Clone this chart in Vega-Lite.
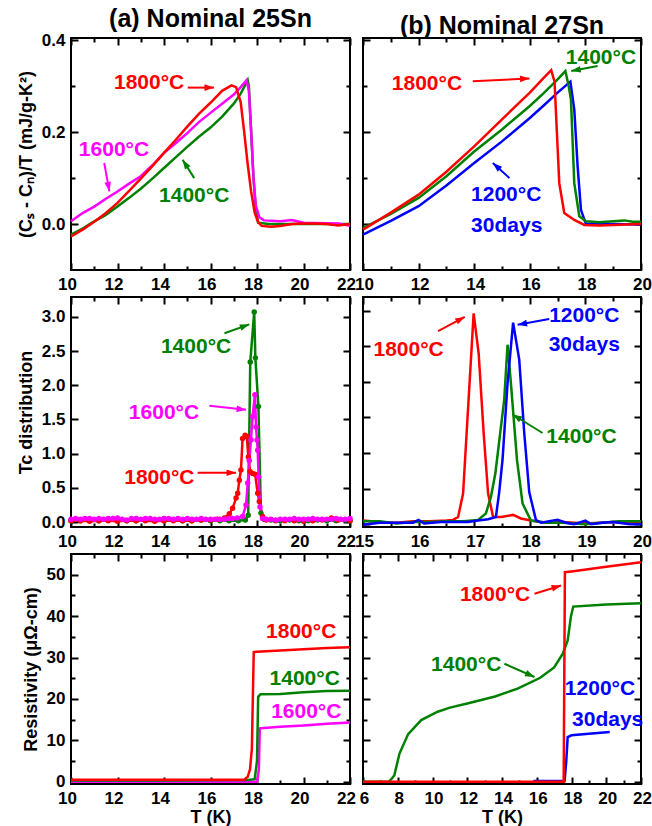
{
"$schema": "https://vega.github.io/schema/vega-lite/v6.json",
"background": "white",
"padding": {"left": 16, "top": 6, "right": 2, "bottom": 2},
"config": {
  "view": {"stroke": "#000", "strokeWidth": 2},
  "axis": {"domain": false, "grid": true, "gridColor": "#000", "gridWidth": 2, "gridOpacity": 1, "ticks": false, "labelPadding": 6, "labelFont": "Liberation Sans", "labelFontSize": 17, "labelFontWeight": "bold", "labelColor": "#000", "titleFont": "Liberation Sans", "titleFontSize": 18, "titleFontWeight": "bold", "titleColor": "#000", "labelOverlap": false, "labelBound": false, "labelFlush": false},
  "title": {"font": "Liberation Sans", "fontSize": 25, "fontWeight": "bold", "color": "#000", "offset": -1},
  "text": {"font": "Liberation Sans", "fontWeight": "bold", "fontSize": 21},
  "line": {"strokeWidth": 2.5}
},
"datasets": {
  "ca": [
    {"s":"1400","T":10.0,"v":-0.023},{"s":"1400","T":10.5,"v":-0.010},{"s":"1400","T":11.0,"v":0.006},{"s":"1400","T":11.5,"v":0.020},{"s":"1400","T":12.0,"v":0.038},{"s":"1400","T":12.5,"v":0.057},{"s":"1400","T":13.0,"v":0.077},{"s":"1400","T":13.5,"v":0.099},{"s":"1400","T":14.0,"v":0.122},{"s":"1400","T":14.5,"v":0.145},{"s":"1400","T":15.0,"v":0.168},{"s":"1400","T":15.5,"v":0.19},{"s":"1400","T":16.0,"v":0.21},{"s":"1400","T":16.5,"v":0.234},{"s":"1400","T":17.0,"v":0.262},{"s":"1400","T":17.3,"v":0.284},{"s":"1400","T":17.6,"v":0.313},{"s":"1400","T":17.65,"v":0.3},{"s":"1400","T":17.75,"v":0.2},{"s":"1400","T":17.85,"v":0.1},{"s":"1400","T":17.95,"v":0.03},{"s":"1400","T":18.05,"v":0.003},{"s":"1400","T":18.5,"v":0.0},{"s":"1400","T":19.0,"v":0.0},{"s":"1400","T":20.0,"v":0.0},{"s":"1400","T":21.0,"v":0.0},{"s":"1400","T":22.0,"v":0.0},
    {"s":"1600","T":10.0,"v":0.006},{"s":"1600","T":10.5,"v":0.024},{"s":"1600","T":11.0,"v":0.038},{"s":"1600","T":11.5,"v":0.055},{"s":"1600","T":12.0,"v":0.071},{"s":"1600","T":12.5,"v":0.088},{"s":"1600","T":13.0,"v":0.104},{"s":"1600","T":13.5,"v":0.128},{"s":"1600","T":14.0,"v":0.155},{"s":"1600","T":14.5,"v":0.176},{"s":"1600","T":15.0,"v":0.198},{"s":"1600","T":15.5,"v":0.222},{"s":"1600","T":16.0,"v":0.242},{"s":"1600","T":16.5,"v":0.262},{"s":"1600","T":17.0,"v":0.282},{"s":"1600","T":17.3,"v":0.298},{"s":"1600","T":17.55,"v":0.313},{"s":"1600","T":17.65,"v":0.29},{"s":"1600","T":17.75,"v":0.2},{"s":"1600","T":17.85,"v":0.1},{"s":"1600","T":17.95,"v":0.04},{"s":"1600","T":18.1,"v":0.015},{"s":"1600","T":18.3,"v":0.008},{"s":"1600","T":19.0,"v":0.006},{"s":"1600","T":19.5,"v":0.009},{"s":"1600","T":20.0,"v":0.003},{"s":"1600","T":21.0,"v":0.002},{"s":"1600","T":21.5,"v":0.001},{"s":"1600","T":22.0,"v":-0.004},
    {"s":"1800","T":10.0,"v":-0.027},{"s":"1800","T":10.5,"v":-0.012},{"s":"1800","T":11.0,"v":0.005},{"s":"1800","T":11.5,"v":0.024},{"s":"1800","T":12.0,"v":0.046},{"s":"1800","T":12.5,"v":0.072},{"s":"1800","T":13.0,"v":0.099},{"s":"1800","T":13.5,"v":0.126},{"s":"1800","T":14.0,"v":0.155},{"s":"1800","T":14.5,"v":0.183},{"s":"1800","T":15.0,"v":0.212},{"s":"1800","T":15.5,"v":0.24},{"s":"1800","T":16.0,"v":0.264},{"s":"1800","T":16.5,"v":0.29},{"s":"1800","T":16.9,"v":0.302},{"s":"1800","T":17.1,"v":0.298},{"s":"1800","T":17.3,"v":0.265},{"s":"1800","T":17.45,"v":0.2},{"s":"1800","T":17.6,"v":0.13},{"s":"1800","T":17.75,"v":0.07},{"s":"1800","T":17.9,"v":0.025},{"s":"1800","T":18.05,"v":0.004},{"s":"1800","T":18.2,"v":-0.004},{"s":"1800","T":18.6,"v":-0.006},{"s":"1800","T":19.0,"v":-0.004},{"s":"1800","T":19.5,"v":0.0},{"s":"1800","T":20.0,"v":0.001},{"s":"1800","T":20.5,"v":0.001},{"s":"1800","T":21.0,"v":0.0},{"s":"1800","T":21.5,"v":-0.003},{"s":"1800","T":22.0,"v":0.0}
  ],
  "cb": [
    {"s":"1200","T":10.0,"v":-0.023},{"s":"1200","T":11.0,"v":0.007},{"s":"1200","T":12.0,"v":0.039},{"s":"1200","T":13.0,"v":0.084},{"s":"1200","T":14.0,"v":0.133},{"s":"1200","T":15.0,"v":0.18},{"s":"1200","T":16.0,"v":0.231},{"s":"1200","T":16.5,"v":0.258},{"s":"1200","T":17.0,"v":0.286},{"s":"1200","T":17.46,"v":0.31},{"s":"1200","T":17.6,"v":0.249},{"s":"1200","T":17.72,"v":0.126},{"s":"1200","T":17.84,"v":0.031},{"s":"1200","T":18.02,"v":0.0},{"s":"1200","T":19.0,"v":0.0},{"s":"1200","T":20.0,"v":-0.001},
    {"s":"1400","T":10.0,"v":-0.009},{"s":"1400","T":11.0,"v":0.022},{"s":"1400","T":12.0,"v":0.057},{"s":"1400","T":13.0,"v":0.104},{"s":"1400","T":14.0,"v":0.158},{"s":"1400","T":15.0,"v":0.206},{"s":"1400","T":16.0,"v":0.257},{"s":"1400","T":16.5,"v":0.285},{"s":"1400","T":17.0,"v":0.315},{"s":"1400","T":17.28,"v":0.333},{"s":"1400","T":17.4,"v":0.3},{"s":"1400","T":17.48,"v":0.271},{"s":"1400","T":17.6,"v":0.089},{"s":"1400","T":17.78,"v":0.017},{"s":"1400","T":18.02,"v":0.006},{"s":"1400","T":18.5,"v":0.004},{"s":"1400","T":19.0,"v":0.006},{"s":"1400","T":19.4,"v":0.008},{"s":"1400","T":19.7,"v":0.005},{"s":"1400","T":20.0,"v":0.005},
    {"s":"1800","T":10.0,"v":-0.012},{"s":"1800","T":11.0,"v":0.025},{"s":"1800","T":12.0,"v":0.064},{"s":"1800","T":13.0,"v":0.114},{"s":"1800","T":14.0,"v":0.169},{"s":"1800","T":15.0,"v":0.228},{"s":"1800","T":16.0,"v":0.286},{"s":"1800","T":16.5,"v":0.318},{"s":"1800","T":16.77,"v":0.335},{"s":"1800","T":16.89,"v":0.31},{"s":"1800","T":17.06,"v":0.089},{"s":"1800","T":17.24,"v":0.024},{"s":"1800","T":17.6,"v":0.009},{"s":"1800","T":17.96,"v":-0.002},{"s":"1800","T":18.5,"v":-0.003},{"s":"1800","T":19.0,"v":-0.002},{"s":"1800","T":20.0,"v":0.0}
  ],
  "da": [
    {"s":"1400","T":10.0,"v":0.02},{"s":"1400","T":10.4,"v":0.02},{"s":"1400","T":10.8,"v":0.03},{"s":"1400","T":11.2,"v":0.02},{"s":"1400","T":11.6,"v":0.03},{"s":"1400","T":12.0,"v":0.03},{"s":"1400","T":12.4,"v":0.02},{"s":"1400","T":12.8,"v":0.02},{"s":"1400","T":13.2,"v":0.03},{"s":"1400","T":13.6,"v":0.02},{"s":"1400","T":14.0,"v":0.02},{"s":"1400","T":14.4,"v":0.03},{"s":"1400","T":14.8,"v":0.02},{"s":"1400","T":15.2,"v":0.02},{"s":"1400","T":15.6,"v":0.03},{"s":"1400","T":16.0,"v":0.02},{"s":"1400","T":16.4,"v":0.02},{"s":"1400","T":16.8,"v":0.02},{"s":"1400","T":17.2,"v":0.02},{"s":"1400","T":17.5,"v":0.03},{"s":"1400","T":17.62,"v":0.1},{"s":"1400","T":17.71,"v":2.34},{"s":"1400","T":17.88,"v":3.07},{"s":"1400","T":17.93,"v":2.4},{"s":"1400","T":18.06,"v":1.69},{"s":"1400","T":18.17,"v":0.13},{"s":"1400","T":18.3,"v":0.04},{"s":"1400","T":18.6,"v":0.03},{"s":"1400","T":19.0,"v":0.02},{"s":"1400","T":19.4,"v":0.03},{"s":"1400","T":19.8,"v":0.02},{"s":"1400","T":20.2,"v":0.02},{"s":"1400","T":20.6,"v":0.03},{"s":"1400","T":21.0,"v":0.02},{"s":"1400","T":21.4,"v":0.02},{"s":"1400","T":21.8,"v":0.03},{"s":"1400","T":22.0,"v":0.02},
    {"s":"1800","T":10.0,"v":0.02},{"s":"1800","T":10.4,"v":0.02},{"s":"1800","T":10.8,"v":0.01},{"s":"1800","T":11.2,"v":0.02},{"s":"1800","T":11.6,"v":0.02},{"s":"1800","T":12.0,"v":0.01},{"s":"1800","T":12.4,"v":0.02},{"s":"1800","T":12.8,"v":0.02},{"s":"1800","T":13.2,"v":0.02},{"s":"1800","T":13.6,"v":0.01},{"s":"1800","T":14.0,"v":0.02},{"s":"1800","T":14.4,"v":0.02},{"s":"1800","T":14.8,"v":0.02},{"s":"1800","T":15.2,"v":0.02},{"s":"1800","T":15.6,"v":0.03},{"s":"1800","T":16.0,"v":0.03},{"s":"1800","T":16.3,"v":0.04},{"s":"1800","T":16.6,"v":0.06},{"s":"1800","T":16.81,"v":0.12},{"s":"1800","T":16.95,"v":0.2},{"s":"1800","T":17.1,"v":0.35},{"s":"1800","T":17.17,"v":0.42},{"s":"1800","T":17.24,"v":0.61},{"s":"1800","T":17.31,"v":0.76},{"s":"1800","T":17.38,"v":1.22},{"s":"1800","T":17.49,"v":1.27},{"s":"1800","T":17.56,"v":1.25},{"s":"1800","T":17.63,"v":0.95},{"s":"1800","T":17.7,"v":0.74},{"s":"1800","T":17.81,"v":0.71},{"s":"1800","T":17.92,"v":0.7},{"s":"1800","T":18.03,"v":0.42},{"s":"1800","T":18.1,"v":0.3},{"s":"1800","T":18.24,"v":0.08},{"s":"1800","T":18.4,"v":0.03},{"s":"1800","T":18.8,"v":0.02},{"s":"1800","T":19.2,"v":0.02},{"s":"1800","T":19.6,"v":0.02},{"s":"1800","T":20.0,"v":0.01},{"s":"1800","T":20.4,"v":0.02},{"s":"1800","T":20.8,"v":0.03},{"s":"1800","T":21.2,"v":0.06},{"s":"1800","T":21.5,"v":0.03},{"s":"1800","T":22.0,"v":0.02},
    {"s":"1600","T":10.0,"v":0.04},{"s":"1600","T":10.2,"v":0.05},{"s":"1600","T":10.4,"v":0.04},{"s":"1600","T":10.6,"v":0.05},{"s":"1600","T":10.8,"v":0.05},{"s":"1600","T":11.0,"v":0.04},{"s":"1600","T":11.2,"v":0.05},{"s":"1600","T":11.4,"v":0.04},{"s":"1600","T":11.6,"v":0.05},{"s":"1600","T":11.8,"v":0.05},{"s":"1600","T":12.0,"v":0.06},{"s":"1600","T":12.2,"v":0.04},{"s":"1600","T":12.4,"v":0.03},{"s":"1600","T":12.6,"v":0.05},{"s":"1600","T":12.8,"v":0.05},{"s":"1600","T":13.0,"v":0.04},{"s":"1600","T":13.2,"v":0.05},{"s":"1600","T":13.4,"v":0.05},{"s":"1600","T":13.6,"v":0.04},{"s":"1600","T":13.8,"v":0.04},{"s":"1600","T":14.0,"v":0.05},{"s":"1600","T":14.2,"v":0.05},{"s":"1600","T":14.4,"v":0.04},{"s":"1600","T":14.6,"v":0.05},{"s":"1600","T":14.8,"v":0.04},{"s":"1600","T":15.0,"v":0.05},{"s":"1600","T":15.2,"v":0.04},{"s":"1600","T":15.4,"v":0.04},{"s":"1600","T":15.6,"v":0.05},{"s":"1600","T":15.8,"v":0.04},{"s":"1600","T":16.0,"v":0.04},{"s":"1600","T":16.2,"v":0.04},{"s":"1600","T":16.4,"v":0.04},{"s":"1600","T":16.6,"v":0.04},{"s":"1600","T":16.8,"v":0.05},{"s":"1600","T":16.95,"v":0.05},{"s":"1600","T":17.15,"v":0.06},{"s":"1600","T":17.38,"v":0.08},{"s":"1600","T":17.53,"v":0.25},{"s":"1600","T":17.6,"v":0.57},{"s":"1600","T":17.67,"v":0.9},{"s":"1600","T":17.74,"v":1.2},{"s":"1600","T":17.81,"v":1.54},{"s":"1600","T":17.91,"v":1.86},{"s":"1600","T":17.96,"v":1.39},{"s":"1600","T":18.0,"v":1.2},{"s":"1600","T":18.03,"v":1.05},{"s":"1600","T":18.07,"v":0.66},{"s":"1600","T":18.13,"v":0.22},{"s":"1600","T":18.24,"v":0.05},{"s":"1600","T":18.4,"v":0.04},{"s":"1600","T":18.6,"v":0.04},{"s":"1600","T":18.8,"v":0.03},{"s":"1600","T":19.0,"v":0.04},{"s":"1600","T":19.2,"v":0.04},{"s":"1600","T":19.4,"v":0.04},{"s":"1600","T":19.6,"v":0.05},{"s":"1600","T":19.8,"v":0.04},{"s":"1600","T":20.0,"v":0.04},{"s":"1600","T":20.2,"v":0.04},{"s":"1600","T":20.4,"v":0.05},{"s":"1600","T":20.6,"v":0.04},{"s":"1600","T":20.8,"v":0.04},{"s":"1600","T":21.0,"v":0.04},{"s":"1600","T":21.2,"v":0.04},{"s":"1600","T":21.4,"v":0.05},{"s":"1600","T":21.6,"v":0.04},{"s":"1600","T":21.8,"v":0.04},{"s":"1600","T":22.0,"v":0.05}
  ],
  "db": [
    {"s":"1800","T":15.0,"v":0.05},{"s":"1800","T":15.3,"v":0.03},{"s":"1800","T":15.6,"v":0.02},{"s":"1800","T":15.9,"v":0.04},{"s":"1800","T":16.2,"v":0.04},{"s":"1800","T":16.5,"v":0.05},{"s":"1800","T":16.62,"v":0.06},{"s":"1800","T":16.71,"v":0.1},{"s":"1800","T":16.8,"v":0.43},{"s":"1800","T":16.99,"v":2.96},{"s":"1800","T":17.08,"v":2.4},{"s":"1800","T":17.17,"v":1.28},{"s":"1800","T":17.25,"v":0.43},{"s":"1800","T":17.34,"v":0.1},{"s":"1800","T":17.48,"v":0.1},{"s":"1800","T":17.7,"v":0.13},{"s":"1800","T":17.84,"v":0.08},{"s":"1800","T":18.02,"v":0.05},{"s":"1800","T":18.3,"v":0.02},{"s":"1800","T":18.6,"v":0.03},{"s":"1800","T":19.0,"v":0.01},{"s":"1800","T":19.5,"v":0.03},{"s":"1800","T":20.0,"v":0.02},
    {"s":"1400","T":15.0,"v":0.04},{"s":"1400","T":15.3,"v":0.04},{"s":"1400","T":15.6,"v":0.01},{"s":"1400","T":15.9,"v":0.03},{"s":"1400","T":16.2,"v":0.03},{"s":"1400","T":16.5,"v":0.04},{"s":"1400","T":16.8,"v":0.04},{"s":"1400","T":17.07,"v":0.06},{"s":"1400","T":17.21,"v":0.15},{"s":"1400","T":17.3,"v":0.38},{"s":"1400","T":17.38,"v":0.71},{"s":"1400","T":17.54,"v":1.75},{"s":"1400","T":17.6,"v":2.52},{"s":"1400","T":17.66,"v":1.98},{"s":"1400","T":17.77,"v":0.9},{"s":"1400","T":17.87,"v":0.29},{"s":"1400","T":18.02,"v":0.05},{"s":"1400","T":18.3,"v":0.02},{"s":"1400","T":18.6,"v":0.02},{"s":"1400","T":19.0,"v":0.0},{"s":"1400","T":19.3,"v":0.02},{"s":"1400","T":19.6,"v":0.04},{"s":"1400","T":20.0,"v":0.04},
    {"s":"1200","T":15.0,"v":-0.01},{"s":"1200","T":15.3,"v":0.02},{"s":"1200","T":15.6,"v":0.02},{"s":"1200","T":15.9,"v":0.02},{"s":"1200","T":16.0,"v":0.06},{"s":"1200","T":16.1,"v":0.01},{"s":"1200","T":16.4,"v":0.03},{"s":"1200","T":16.7,"v":0.03},{"s":"1200","T":16.89,"v":0.03},{"s":"1200","T":17.07,"v":0.05},{"s":"1200","T":17.25,"v":0.07},{"s":"1200","T":17.39,"v":0.1},{"s":"1200","T":17.45,"v":0.45},{"s":"1200","T":17.51,"v":0.91},{"s":"1200","T":17.6,"v":1.98},{"s":"1200","T":17.7,"v":2.83},{"s":"1200","T":17.81,"v":2.31},{"s":"1200","T":17.9,"v":1.28},{"s":"1200","T":17.99,"v":0.45},{"s":"1200","T":18.11,"v":0.06},{"s":"1200","T":18.2,"v":0.02},{"s":"1200","T":18.35,"v":0.04},{"s":"1200","T":18.5,"v":0.06},{"s":"1200","T":18.65,"v":0.02},{"s":"1200","T":18.8,"v":0.0},{"s":"1200","T":19.0,"v":0.05},{"s":"1200","T":19.1,"v":0.0},{"s":"1200","T":19.3,"v":0.02},{"s":"1200","T":19.5,"v":0.03},{"s":"1200","T":19.8,"v":0.0},{"s":"1200","T":20.0,"v":0.0}
  ],
  "ra": [
    {"s":"1600","T":10.0,"v":0.0},{"s":"1600","T":14.0,"v":0.0},{"s":"1600","T":18.0,"v":0.0},{"s":"1600","T":18.08,"v":3.0},{"s":"1600","T":18.12,"v":12.9},{"s":"1600","T":18.3,"v":13.0},{"s":"1600","T":19.0,"v":13.3},{"s":"1600","T":20.0,"v":13.6},{"s":"1600","T":21.0,"v":14.0},{"s":"1600","T":22.0,"v":14.3},
    {"s":"1400","T":10.0,"v":0.3},{"s":"1400","T":14.0,"v":0.3},{"s":"1400","T":17.6,"v":0.4},{"s":"1400","T":17.9,"v":0.6},{"s":"1400","T":18.0,"v":5.0},{"s":"1400","T":18.05,"v":20.5},{"s":"1400","T":18.15,"v":21.1},{"s":"1400","T":19.0,"v":21.2},{"s":"1400","T":20.0,"v":21.6},{"s":"1400","T":21.0,"v":21.9},{"s":"1400","T":22.0,"v":22.0},
    {"s":"1800","T":10.0,"v":0.5},{"s":"1800","T":12.0,"v":0.5},{"s":"1800","T":14.0,"v":0.5},{"s":"1800","T":16.0,"v":0.5},{"s":"1800","T":17.45,"v":0.5},{"s":"1800","T":17.6,"v":1.2},{"s":"1800","T":17.7,"v":3.0},{"s":"1800","T":17.78,"v":8.0},{"s":"1800","T":17.82,"v":20.0},{"s":"1800","T":17.86,"v":31.3},{"s":"1800","T":18.0,"v":31.4},{"s":"1800","T":19.0,"v":31.7},{"s":"1800","T":20.0,"v":32.0},{"s":"1800","T":21.0,"v":32.3},{"s":"1800","T":22.0,"v":32.5}
  ],
  "rb": [
    {"s":"1200","T":15.8,"v":0.2},{"s":"1200","T":17.6,"v":0.2},{"s":"1200","T":17.7,"v":5.0},{"s":"1200","T":17.78,"v":10.8},{"s":"1200","T":18.0,"v":11.2},{"s":"1200","T":19.0,"v":11.6},{"s":"1200","T":20.2,"v":12.0},
    {"s":"1400","T":6.0,"v":0.0},{"s":"1400","T":7.5,"v":0.0},{"s":"1400","T":7.8,"v":1.5},{"s":"1400","T":8.1,"v":6.8},{"s":"1400","T":8.6,"v":11.5},{"s":"1400","T":9.35,"v":14.9},{"s":"1400","T":10.3,"v":16.9},{"s":"1400","T":11.0,"v":17.9},{"s":"1400","T":12.0,"v":18.9},{"s":"1400","T":13.6,"v":20.6},{"s":"1400","T":14.9,"v":22.5},{"s":"1400","T":16.2,"v":25.1},{"s":"1400","T":17.0,"v":27.6},{"s":"1400","T":17.5,"v":30.9},{"s":"1400","T":17.78,"v":34.1},{"s":"1400","T":17.97,"v":40.0},{"s":"1400","T":18.1,"v":42.3},{"s":"1400","T":20.0,"v":42.8},{"s":"1400","T":22.0,"v":43.1},
    {"s":"1800","T":6.0,"v":0.0},{"s":"1800","T":10.0,"v":0.0},{"s":"1800","T":14.0,"v":0.0},{"s":"1800","T":17.55,"v":0.0},{"s":"1800","T":17.62,"v":50.6},{"s":"1800","T":18.0,"v":50.8},{"s":"1800","T":20.0,"v":51.9},{"s":"1800","T":22.0,"v":53.0}
  ],
  "ann": [
    {"p":"ca","s":"1800","T":13.36,"v":0.307,"t":"1800°C"},{"p":"ca","s":"1600","T":11.85,"v":0.162,"t":"1600°C"},{"p":"ca","s":"1400","T":15.3,"v":0.06,"t":"1400°C"},
    {"p":"cb","s":"1800","T":12.3,"v":0.304,"t":"1800°C"},{"p":"cb","s":"1400","T":18.56,"v":0.362,"t":"1400°C"},{"p":"cb","s":"1200","T":15.15,"v":0.064,"t":"1200°C"},{"p":"cb","s":"1200","T":15.17,"v":-0.005,"t":"30days"},
    {"p":"da","s":"1400","T":15.38,"v":2.56,"t":"1400°C"},{"p":"da","s":"1600","T":14.0,"v":1.59,"t":"1600°C"},{"p":"da","s":"1800","T":13.8,"v":0.64,"t":"1800°C"},
    {"p":"db","s":"1800","T":15.82,"v":2.45,"t":"1800°C"},{"p":"db","s":"1200","T":18.98,"v":2.93,"t":"1200°C"},{"p":"db","s":"1200","T":18.98,"v":2.52,"t":"30days"},{"p":"db","s":"1400","T":18.93,"v":1.23,"t":"1400°C"},
    {"p":"ra","s":"1800","T":19.9,"v":36.2,"t":"1800°C"},{"p":"ra","s":"1400","T":20.05,"v":24.9,"t":"1400°C"},{"p":"ra","s":"1600","T":20.12,"v":16.9,"t":"1600°C"},
    {"p":"rb","s":"1800","T":13.6,"v":45.0,"t":"1800°C"},{"p":"rb","s":"1400","T":11.94,"v":28.1,"t":"1400°C"},{"p":"rb","s":"1200","T":19.64,"v":22.5,"t":"1200°C"},{"p":"rb","s":"1200","T":20.08,"v":14.9,"t":"30days"}
  ],
  "arr": [
    {"p":"ca","s":"1800","T":15.02,"v":0.297,"T2":16.15,"v2":0.297,"a":0},{"p":"ca","s":"1600","T":11.43,"v":0.133,"T2":11.65,"v2":0.071,"a":80},{"p":"ca","s":"1400","T":15.3,"v":0.1,"T2":14.8,"v2":0.14,"a":237},
    {"p":"cb","s":"1800","T":13.95,"v":0.311,"T2":15.99,"v2":0.317,"a":-3},{"p":"cb","s":"1400","T":18.44,"v":0.344,"T2":17.49,"v2":0.333,"a":169},{"p":"cb","s":"1200","T":15.27,"v":0.1,"T2":14.67,"v2":0.133,"a":222},
    {"p":"da","s":"1400","T":16.6,"v":2.76,"T2":17.67,"v2":2.89,"a":-20},{"p":"da","s":"1600","T":15.95,"v":1.7,"T2":17.53,"v2":1.64,"a":6},{"p":"da","s":"1800","T":15.45,"v":0.72,"T2":17.1,"v2":0.72,"a":0},
    {"p":"db","s":"1800","T":16.35,"v":2.71,"T2":16.83,"v2":2.91,"a":-28},{"p":"db","s":"1200","T":18.35,"v":2.88,"T2":17.78,"v2":2.8,"a":170},{"p":"db","s":"1400","T":18.23,"v":1.28,"T2":17.69,"v2":1.54,"a":211},
    {"p":"rb","s":"1800","T":15.87,"v":45.4,"T2":17.4,"v2":47.4,"a":-17},{"p":"rb","s":"1400","T":14.14,"v":28.5,"T2":15.87,"v2":25.3,"a":24}
  ]
},
"columns": 2,
"spacing": {"row": 27, "column": 13},
"bounds": "flush",
"concat": [
  {"width": 279, "height": 232, "title": "(a) Nominal 25Sn",
   "layer": [
    {"data": {"name": "ca"}, "mark": {"type": "line", "strokeWidth": 2.5},
     "encoding": {
      "x": {"field": "T", "type": "quantitative", "scale": {"domain": [10, 22]}, "axis": {"orient": "bottom", "values": [10,11,12,13,14,15,16,17,18,19,20,21,22], "labelExpr": "datum.value % 2 === 0 ? datum.label : ''", "gridDash": {"condition": {"test": "datum.value % 2 === 0", "value": [7, 218, 7, 100]}, "value": [4, 224, 4, 100]}, "labelOffset": -4, "title": null}},
      "y": {"field": "v", "type": "quantitative", "scale": {"domain": [-0.1, 0.405]}, "axis": {"orient": "left", "values": [0,0.1,0.2,0.3,0.4], "labelExpr": "round(datum.value*10) % 2 === 0 ? format(datum.value, '.1f') : ''", "gridDash": {"condition": {"test": "round(datum.value*10) % 2 === 0", "value": [7, 265, 7, 100]}, "value": [4, 271, 4, 100]}, "title": "(Cₛ - Cₙ)/T (mJ/g-K²)", "titlePadding": 6}},
      "color": {"field": "s", "type": "nominal", "scale": {"domain": ["1200","1400","1600","1800"], "range": ["#0000ff","#008000","#ff00ff","#ff0000"]}, "legend": null}}},
    {"data": {"name": "arr"}, "transform": [{"filter": "datum.p === 'ca'"}], "mark": {"type": "rule", "strokeWidth": 2},
     "encoding": {"x": {"field": "T", "type": "quantitative", "scale": {"domain": [10, 22]}, "axis": null}, "y": {"field": "v", "type": "quantitative", "scale": {"domain": [-0.1, 0.405]}, "axis": null}, "x2": {"field": "T2"}, "y2": {"field": "v2"}, "color": {"field": "s", "type": "nominal", "scale": {"domain": ["1200","1400","1600","1800"], "range": ["#0000ff","#008000","#ff00ff","#ff0000"]}, "legend": null}}},
    {"data": {"name": "arr"}, "transform": [{"filter": "datum.p === 'ca'"}], "mark": {"type": "point", "filled": true, "opacity": 1, "shape": "M-2,-0.7L0,0L-2,0.7Z", "size": 90},
     "encoding": {"x": {"field": "T2", "type": "quantitative", "scale": {"domain": [10, 22]}, "axis": null}, "y": {"field": "v2", "type": "quantitative", "scale": {"domain": [-0.1, 0.405]}, "axis": null}, "angle": {"field": "a", "type": "quantitative", "scale": null}, "color": {"field": "s", "type": "nominal", "scale": {"domain": ["1200","1400","1600","1800"], "range": ["#0000ff","#008000","#ff00ff","#ff0000"]}, "legend": null}}},
    {"data": {"name": "ann"}, "transform": [{"filter": "datum.p === 'ca'"}], "mark": {"type": "text", "font": "Liberation Sans", "fontWeight": "bold", "fontSize": 21},
     "encoding": {"x": {"field": "T", "type": "quantitative", "scale": {"domain": [10, 22]}, "axis": null}, "y": {"field": "v", "type": "quantitative", "scale": {"domain": [-0.1, 0.405]}, "axis": null}, "text": {"field": "t"}, "color": {"field": "s", "type": "nominal", "scale": {"domain": ["1200","1400","1600","1800"], "range": ["#0000ff","#008000","#ff00ff","#ff0000"]}, "legend": null}}}
   ],
   "resolve": {"axis": {"x": "independent", "y": "independent"}}},
  {"width": 278, "height": 232, "title": "(b) Nominal 27Sn",
   "layer": [
    {"data": {"name": "cb"}, "mark": {"type": "line", "strokeWidth": 2.5},
     "encoding": {
      "x": {"field": "T", "type": "quantitative", "scale": {"domain": [10, 20]}, "axis": {"orient": "bottom", "values": [10,11,12,13,14,15,16,17,18,19,20], "labelExpr": "datum.value % 2 === 0 ? datum.label : ''", "gridDash": {"condition": {"test": "datum.value % 2 === 0", "value": [7, 218, 7, 100]}, "value": [4, 224, 4, 100]}, "labelOffset": 1, "title": null}},
      "y": {"field": "v", "type": "quantitative", "scale": {"domain": [-0.1, 0.405]}, "axis": {"orient": "left", "values": [0,0.1,0.2,0.3,0.4], "labels": false, "gridDash": {"condition": {"test": "round(datum.value*10) % 2 === 0", "value": [7, 264, 7, 100]}, "value": [4, 270, 4, 100]}, "title": null}},
      "color": {"field": "s", "type": "nominal", "scale": {"domain": ["1200","1400","1600","1800"], "range": ["#0000ff","#008000","#ff00ff","#ff0000"]}, "legend": null}}},
    {"data": {"name": "arr"}, "transform": [{"filter": "datum.p === 'cb'"}], "mark": {"type": "rule", "strokeWidth": 2},
     "encoding": {"x": {"field": "T", "type": "quantitative", "scale": {"domain": [10, 20]}, "axis": null}, "y": {"field": "v", "type": "quantitative", "scale": {"domain": [-0.1, 0.405]}, "axis": null}, "x2": {"field": "T2"}, "y2": {"field": "v2"}, "color": {"field": "s", "type": "nominal", "scale": {"domain": ["1200","1400","1600","1800"], "range": ["#0000ff","#008000","#ff00ff","#ff0000"]}, "legend": null}}},
    {"data": {"name": "arr"}, "transform": [{"filter": "datum.p === 'cb'"}], "mark": {"type": "point", "filled": true, "opacity": 1, "shape": "M-2,-0.7L0,0L-2,0.7Z", "size": 90},
     "encoding": {"x": {"field": "T2", "type": "quantitative", "scale": {"domain": [10, 20]}, "axis": null}, "y": {"field": "v2", "type": "quantitative", "scale": {"domain": [-0.1, 0.405]}, "axis": null}, "angle": {"field": "a", "type": "quantitative", "scale": null}, "color": {"field": "s", "type": "nominal", "scale": {"domain": ["1200","1400","1600","1800"], "range": ["#0000ff","#008000","#ff00ff","#ff0000"]}, "legend": null}}},
    {"data": {"name": "ann"}, "transform": [{"filter": "datum.p === 'cb'"}], "mark": {"type": "text", "font": "Liberation Sans", "fontWeight": "bold", "fontSize": 21},
     "encoding": {"x": {"field": "T", "type": "quantitative", "scale": {"domain": [10, 20]}, "axis": null}, "y": {"field": "v", "type": "quantitative", "scale": {"domain": [-0.1, 0.405]}, "axis": null}, "text": {"field": "t"}, "color": {"field": "s", "type": "nominal", "scale": {"domain": ["1200","1400","1600","1800"], "range": ["#0000ff","#008000","#ff00ff","#ff0000"]}, "legend": null}}}
   ],
   "resolve": {"axis": {"x": "independent", "y": "independent"}}},
  {"width": 279, "height": 230,
   "layer": [
    {"data": {"name": "da"}, "mark": {"type": "line", "strokeWidth": 2.5, "point": {"filled": true, "size": 30}},
     "encoding": {
      "x": {"field": "T", "type": "quantitative", "scale": {"domain": [10, 22]}, "axis": {"orient": "bottom", "values": [10,11,12,13,14,15,16,17,18,19,20,21,22], "labelExpr": "datum.value % 2 === 0 ? datum.label : ''", "gridDash": {"condition": {"test": "datum.value % 2 === 0", "value": [7, 216, 7, 100]}, "value": [4, 222, 4, 100]}, "labelOffset": -4, "title": null}},
      "y": {"field": "v", "type": "quantitative", "scale": {"domain": [-0.073, 3.29]}, "axis": {"orient": "left", "values": [0,0.5,1,1.5,2,2.5,3], "format": ".1f", "gridDash": [7, 265, 7, 100], "title": "Tc distribution", "titlePadding": 6}},
      "color": {"field": "s", "type": "nominal", "scale": {"domain": ["1200","1400","1600","1800"], "range": ["#0000ff","#008000","#ff00ff","#ff0000"]}, "legend": null}}},
    {"data": {"name": "arr"}, "transform": [{"filter": "datum.p === 'da'"}], "mark": {"type": "rule", "strokeWidth": 2},
     "encoding": {"x": {"field": "T", "type": "quantitative", "scale": {"domain": [10, 22]}, "axis": null}, "y": {"field": "v", "type": "quantitative", "scale": {"domain": [-0.073, 3.29]}, "axis": null}, "x2": {"field": "T2"}, "y2": {"field": "v2"}, "color": {"field": "s", "type": "nominal", "scale": {"domain": ["1200","1400","1600","1800"], "range": ["#0000ff","#008000","#ff00ff","#ff0000"]}, "legend": null}}},
    {"data": {"name": "arr"}, "transform": [{"filter": "datum.p === 'da'"}], "mark": {"type": "point", "filled": true, "opacity": 1, "shape": "M-2,-0.7L0,0L-2,0.7Z", "size": 90},
     "encoding": {"x": {"field": "T2", "type": "quantitative", "scale": {"domain": [10, 22]}, "axis": null}, "y": {"field": "v2", "type": "quantitative", "scale": {"domain": [-0.073, 3.29]}, "axis": null}, "angle": {"field": "a", "type": "quantitative", "scale": null}, "color": {"field": "s", "type": "nominal", "scale": {"domain": ["1200","1400","1600","1800"], "range": ["#0000ff","#008000","#ff00ff","#ff0000"]}, "legend": null}}},
    {"data": {"name": "ann"}, "transform": [{"filter": "datum.p === 'da'"}], "mark": {"type": "text", "font": "Liberation Sans", "fontWeight": "bold", "fontSize": 21},
     "encoding": {"x": {"field": "T", "type": "quantitative", "scale": {"domain": [10, 22]}, "axis": null}, "y": {"field": "v", "type": "quantitative", "scale": {"domain": [-0.073, 3.29]}, "axis": null}, "text": {"field": "t"}, "color": {"field": "s", "type": "nominal", "scale": {"domain": ["1200","1400","1600","1800"], "range": ["#0000ff","#008000","#ff00ff","#ff0000"]}, "legend": null}}}
   ],
   "resolve": {"axis": {"x": "independent", "y": "independent"}}},
  {"width": 278, "height": 230,
   "layer": [
    {"data": {"name": "db"}, "mark": {"type": "line", "strokeWidth": 2.5},
     "encoding": {
      "x": {"field": "T", "type": "quantitative", "scale": {"domain": [15, 20]}, "axis": {"orient": "bottom", "values": [15,15.5,16,16.5,17,17.5,18,18.5,19,19.5,20], "labelExpr": "datum.value % 1 === 0 ? format(datum.value, 'd') : ''", "gridDash": {"condition": {"test": "datum.value % 1 === 0", "value": [7, 216, 7, 100]}, "value": [4, 222, 4, 100]}, "labelOffset": 1, "title": null}},
      "y": {"field": "v", "type": "quantitative", "scale": {"domain": [-0.04, 3.19]}, "axis": {"orient": "left", "values": [0,0.5,1,1.5,2,2.5,3], "labels": false, "gridDash": [7, 264, 7, 100], "title": null}},
      "color": {"field": "s", "type": "nominal", "scale": {"domain": ["1200","1400","1600","1800"], "range": ["#0000ff","#008000","#ff00ff","#ff0000"]}, "legend": null}}},
    {"data": {"name": "arr"}, "transform": [{"filter": "datum.p === 'db'"}], "mark": {"type": "rule", "strokeWidth": 2},
     "encoding": {"x": {"field": "T", "type": "quantitative", "scale": {"domain": [15, 20]}, "axis": null}, "y": {"field": "v", "type": "quantitative", "scale": {"domain": [-0.04, 3.19]}, "axis": null}, "x2": {"field": "T2"}, "y2": {"field": "v2"}, "color": {"field": "s", "type": "nominal", "scale": {"domain": ["1200","1400","1600","1800"], "range": ["#0000ff","#008000","#ff00ff","#ff0000"]}, "legend": null}}},
    {"data": {"name": "arr"}, "transform": [{"filter": "datum.p === 'db'"}], "mark": {"type": "point", "filled": true, "opacity": 1, "shape": "M-2,-0.7L0,0L-2,0.7Z", "size": 90},
     "encoding": {"x": {"field": "T2", "type": "quantitative", "scale": {"domain": [15, 20]}, "axis": null}, "y": {"field": "v2", "type": "quantitative", "scale": {"domain": [-0.04, 3.19]}, "axis": null}, "angle": {"field": "a", "type": "quantitative", "scale": null}, "color": {"field": "s", "type": "nominal", "scale": {"domain": ["1200","1400","1600","1800"], "range": ["#0000ff","#008000","#ff00ff","#ff0000"]}, "legend": null}}},
    {"data": {"name": "ann"}, "transform": [{"filter": "datum.p === 'db'"}], "mark": {"type": "text", "font": "Liberation Sans", "fontWeight": "bold", "fontSize": 21},
     "encoding": {"x": {"field": "T", "type": "quantitative", "scale": {"domain": [15, 20]}, "axis": null}, "y": {"field": "v", "type": "quantitative", "scale": {"domain": [-0.04, 3.19]}, "axis": null}, "text": {"field": "t"}, "color": {"field": "s", "type": "nominal", "scale": {"domain": ["1200","1400","1600","1800"], "range": ["#0000ff","#008000","#ff00ff","#ff0000"]}, "legend": null}}}
   ],
   "resolve": {"axis": {"x": "independent", "y": "independent"}}},
  {"width": 279, "height": 230,
   "layer": [
    {"data": {"name": "ra"}, "mark": {"type": "line", "strokeWidth": 2.5},
     "encoding": {
      "x": {"field": "T", "type": "quantitative", "scale": {"domain": [10, 22]}, "axis": {"orient": "bottom", "values": [10,11,12,13,14,15,16,17,18,19,20,21,22], "labelExpr": "datum.value % 2 === 0 ? datum.label : ''", "gridDash": {"condition": {"test": "datum.value % 2 === 0", "value": [7, 216, 7, 100]}, "value": [4, 222, 4, 100]}, "labelOffset": -4, "title": "T (K)", "titlePadding": 2}},
      "y": {"field": "v", "type": "quantitative", "scale": {"domain": [-0.55, 55]}, "axis": {"orient": "left", "values": [0,5,10,15,20,25,30,35,40,45,50], "labelExpr": "datum.value % 10 === 0 ? datum.label : ''", "gridDash": {"condition": {"test": "datum.value % 10 === 0", "value": [7, 265, 7, 100]}, "value": [4, 271, 4, 100]}, "title": "Resistivity (μΩ-cm)", "titlePadding": 6}},
      "color": {"field": "s", "type": "nominal", "scale": {"domain": ["1200","1400","1600","1800"], "range": ["#0000ff","#008000","#ff00ff","#ff0000"]}, "legend": null}}},
    {"data": {"name": "ann"}, "transform": [{"filter": "datum.p === 'ra'"}], "mark": {"type": "text", "font": "Liberation Sans", "fontWeight": "bold", "fontSize": 21},
     "encoding": {"x": {"field": "T", "type": "quantitative", "scale": {"domain": [10, 22]}, "axis": null}, "y": {"field": "v", "type": "quantitative", "scale": {"domain": [-0.55, 55]}, "axis": null}, "text": {"field": "t"}, "color": {"field": "s", "type": "nominal", "scale": {"domain": ["1200","1400","1600","1800"], "range": ["#0000ff","#008000","#ff00ff","#ff0000"]}, "legend": null}}}
   ],
   "resolve": {"axis": {"x": "independent", "y": "independent"}}},
  {"width": 278, "height": 230,
   "layer": [
    {"data": {"name": "rb"}, "mark": {"type": "line", "strokeWidth": 2.5},
     "encoding": {
      "x": {"field": "T", "type": "quantitative", "scale": {"domain": [6, 22]}, "axis": {"orient": "bottom", "values": [6,7,8,9,10,11,12,13,14,15,16,17,18,19,20,21,22], "labelExpr": "datum.value % 2 === 0 ? datum.label : ''", "gridDash": {"condition": {"test": "datum.value % 2 === 0", "value": [7, 216, 7, 100]}, "value": [4, 222, 4, 100]}, "labelOffset": 1, "title": "T (K)", "titlePadding": 2}},
      "y": {"field": "v", "type": "quantitative", "scale": {"domain": [-0.55, 55]}, "axis": {"orient": "left", "values": [0,5,10,15,20,25,30,35,40,45,50], "labels": false, "gridDash": {"condition": {"test": "datum.value % 10 === 0", "value": [7, 264, 7, 100]}, "value": [4, 270, 4, 100]}, "title": null}},
      "color": {"field": "s", "type": "nominal", "scale": {"domain": ["1200","1400","1600","1800"], "range": ["#0000ff","#008000","#ff00ff","#ff0000"]}, "legend": null}}},
    {"data": {"name": "arr"}, "transform": [{"filter": "datum.p === 'rb'"}], "mark": {"type": "rule", "strokeWidth": 2},
     "encoding": {"x": {"field": "T", "type": "quantitative", "scale": {"domain": [6, 22]}, "axis": null}, "y": {"field": "v", "type": "quantitative", "scale": {"domain": [-0.55, 55]}, "axis": null}, "x2": {"field": "T2"}, "y2": {"field": "v2"}, "color": {"field": "s", "type": "nominal", "scale": {"domain": ["1200","1400","1600","1800"], "range": ["#0000ff","#008000","#ff00ff","#ff0000"]}, "legend": null}}},
    {"data": {"name": "arr"}, "transform": [{"filter": "datum.p === 'rb'"}], "mark": {"type": "point", "filled": true, "opacity": 1, "shape": "M-2,-0.7L0,0L-2,0.7Z", "size": 90},
     "encoding": {"x": {"field": "T2", "type": "quantitative", "scale": {"domain": [6, 22]}, "axis": null}, "y": {"field": "v2", "type": "quantitative", "scale": {"domain": [-0.55, 55]}, "axis": null}, "angle": {"field": "a", "type": "quantitative", "scale": null}, "color": {"field": "s", "type": "nominal", "scale": {"domain": ["1200","1400","1600","1800"], "range": ["#0000ff","#008000","#ff00ff","#ff0000"]}, "legend": null}}},
    {"data": {"name": "ann"}, "transform": [{"filter": "datum.p === 'rb'"}], "mark": {"type": "text", "font": "Liberation Sans", "fontWeight": "bold", "fontSize": 21},
     "encoding": {"x": {"field": "T", "type": "quantitative", "scale": {"domain": [6, 22]}, "axis": null}, "y": {"field": "v", "type": "quantitative", "scale": {"domain": [-0.55, 55]}, "axis": null}, "text": {"field": "t"}, "color": {"field": "s", "type": "nominal", "scale": {"domain": ["1200","1400","1600","1800"], "range": ["#0000ff","#008000","#ff00ff","#ff0000"]}, "legend": null}}}
   ],
   "resolve": {"axis": {"x": "independent", "y": "independent"}}}
]
}
